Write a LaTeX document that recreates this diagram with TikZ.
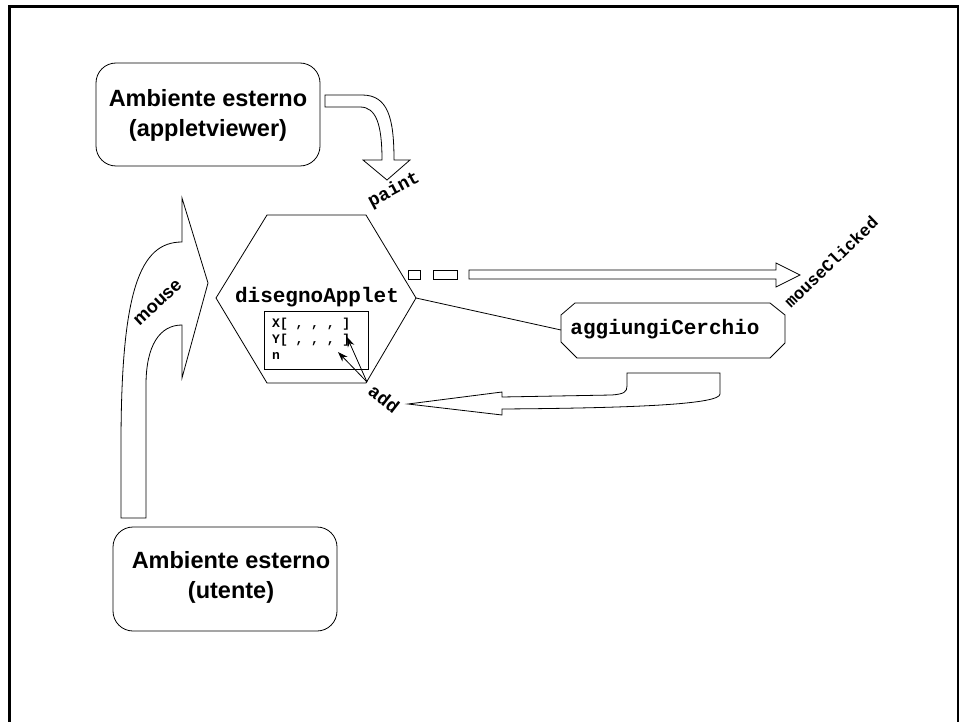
\documentclass[tikz,border=0pt]{standalone}
\usepackage{fontspec}
\setmainfont{Liberation Sans}
\setmonofont{Liberation Mono}
\usetikzlibrary{arrows.meta}
\begin{document}
\begin{tikzpicture}[x=1pt,y=-1pt,
  shp/.style={draw=black,line width=0.8pt,line join=miter},
  envbox/.style={draw=black,line width=0.8pt,rounded corners=20pt},
  envtext/.style={font=\fontsize{23.5}{30}\selectfont\bfseries,align=center,inner sep=0pt},
  monolabel/.style={font=\fontsize{18.5}{20}\selectfont\ttfamily\bfseries,inner sep=0pt},
  bigmono/.style={font=\fontsize{21}{24}\selectfont\ttfamily\bfseries,inner sep=0pt},
  smallmono/.style={font=\fontsize{13}{16}\selectfont\ttfamily\bfseries,inner sep=0pt,anchor=west},
  ptr/.style={line width=0.8pt,-{Stealth[length=10pt,width=7pt]}}]
\useasboundingbox (0,0) rectangle (959,722);
% frame
\draw[line width=3pt] (9,740) -- (9,7) -- (959,7);
\draw[line width=3pt] (958.5,7) -- (958.5,740);

% external environment boxes
\draw[envbox] (96,63) rectangle (320,166);
\node[envtext] (applet) at (208,115) {Ambiente esterno\\(appletviewer)};
\draw[envbox] (113,527) rectangle (337,631);
\node[envtext] (utente) at (231,577) {Ambiente esterno\\(utente)};

% paint curved block arrow
\draw[shp] (325,95) -- (362,95) .. controls (388,95) and (394,118) .. (394,160)
  -- (410,160) -- (387,180) -- (363,160) -- (382,160)
  .. controls (382,124) and (376,107) .. (360,107) -- (325,107) -- cycle;
\node[monolabel,rotate=28] (paint) at (394,190) {paint};

% mouse curved block arrow
\draw[shp] (121,518) -- (121,445) .. controls (121,290) and (140,242) .. (182,242)
  -- (182,198) -- (208,283) -- (182,378) -- (182,325)
  .. controls (160,325) and (146,345) .. (146,385) -- (146,518) -- cycle;
\node[font=\fontsize{18.3}{20}\selectfont\bfseries,rotate=43,inner sep=0pt] (mouse) at (158,303) {mouse};

% hexagon disegnoApplet
\coordinate (hexR) at (416,298);
\draw[shp] (267,215) -- (366,215) -- (hexR) -- (366,383) -- (267,383) -- (216,298) -- cycle;
\node[bigmono] (dis) at (317,297) {disegnoApplet};
\draw[shp] (264,311) rectangle (368,369);
\node[smallmono] (xarr) at (272,324) {X[ , , , ]};
\node[smallmono] (yarr) at (272,340) {Y[ , , , ]};
\node[smallmono] (nvar) at (272,356) {n};

% add pointers
\coordinate (addpt) at (367,382);
\coordinate (ytarget) at (347,337);
\coordinate (ntarget) at (338,352);
\draw[ptr] (addpt) -- (ytarget);
\draw[ptr] (addpt) -- (ntarget);
\node[monolabel,rotate=-38] (add) at (384,399) {add};

% dashed block arrow to mouseClicked
\draw[shp] (408,270) rectangle (420,279);
\draw[shp] (433,270) rectangle (457,279);
\draw[shp] (469,270) -- (776,270) -- (776,263) -- (800,275) -- (776,287) -- (776,279) -- (469,279) -- cycle;
\node[font=\fontsize{17}{18}\selectfont\ttfamily\bfseries,rotate=44,inner sep=0pt] (mc) at (831,262) {mouseClicked};

% aggiungiCerchio octagon
\draw[shp] (575,303) -- (770,303) -- (785,315) -- (785,343) -- (770,358) -- (577,358) -- (561,342) -- (561,315) -- cycle;
\coordinate (aggL) at (561,330);
\node[bigmono] (agg) at (665,329) {aggiungiCerchio};
\draw[line width=0.8pt] (hexR) -- (aggL);

% add block arrow (from aggiungiCerchio back to disegnoApplet)
\draw[shp] (408,404) -- (502,392) -- (502,397) -- (612,395)
  .. controls (624,394) and (627,392) .. (627,386) -- (627,373) -- (720,373) -- (720,394)
  .. controls (720,404) and (640,408) .. (502,409) -- (502,415) -- cycle;
\end{tikzpicture}
\end{document}
